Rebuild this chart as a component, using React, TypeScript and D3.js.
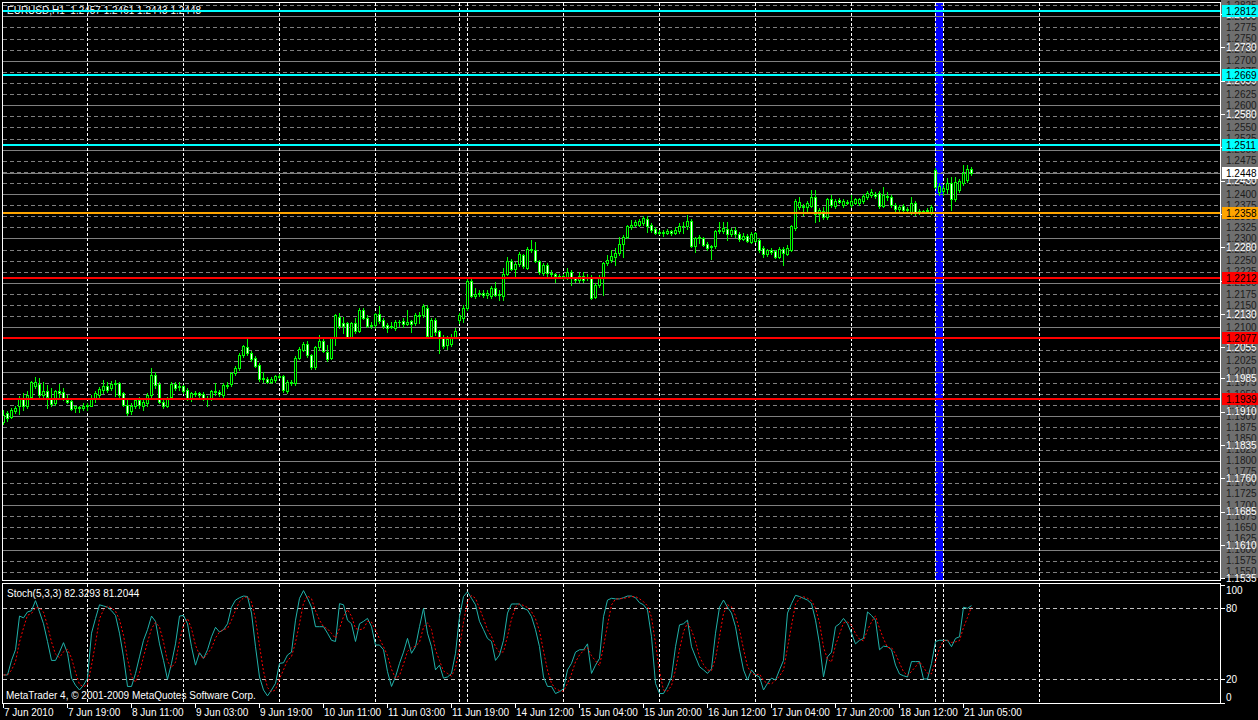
import { useEffect } from 'react';
import * as d3 from 'd3';

// EURUSD H1, 7 Jun 2010 03:00 .. 21 Jun 2010 07:00 (243 bars)
const opens = [
  1.1886, 1.1907, 1.1899, 1.1912, 1.1922, 1.1942, 1.1922, 1.1944, 1.1969, 1.1972,
  1.1947, 1.1957, 1.1939, 1.1929, 1.1957, 1.1954, 1.1937, 1.1934, 1.1918, 1.1921,
  1.1918, 1.1922, 1.1924, 1.1941, 1.1948, 1.1959, 1.1968, 1.1963, 1.1972, 1.1974,
  1.1952, 1.1926, 1.1911, 1.1922, 1.1937, 1.1924, 1.1929, 1.1948, 1.1993, 1.1972,
  1.1933, 1.1924, 1.1944, 1.1972, 1.1965, 1.1967, 1.1959, 1.1942, 1.1950, 1.1952,
  1.1950, 1.1942, 1.1942, 1.1955, 1.1954, 1.1947, 1.1970, 1.1972, 1.1997, 1.2008,
  1.2038, 1.2055, 1.2042, 1.2032, 1.2016, 1.1984, 1.1984, 1.1978, 1.1982, 1.1989,
  1.1990, 1.1957, 1.1977, 1.1974, 1.2032, 1.2050, 1.2062, 1.2037, 1.2010, 1.2055,
  1.2070, 1.2044, 1.2032, 1.2075, 1.2124, 1.2109, 1.2109, 1.2079, 1.2109, 1.2092,
  1.2139, 1.2122, 1.2105, 1.2105, 1.2129, 1.2117, 1.2105, 1.2100, 1.2099, 1.2113,
  1.2115, 1.2107, 1.2114, 1.2109, 1.2128, 1.2128, 1.2143, 1.2081, 1.2117, 1.2092,
  1.2075, 1.2060, 1.2062, 1.2079, 1.2117, 1.2120, 1.2143, 1.2204, 1.2171, 1.2175,
  1.2177, 1.2172, 1.2170, 1.2188, 1.2173, 1.2171, 1.2221, 1.2249, 1.2231, 1.2242,
  1.2263, 1.2234, 1.2276, 1.2274, 1.2249, 1.2222, 1.2240, 1.2222, 1.2220, 1.2216,
  1.2215, 1.2212, 1.2224, 1.2210, 1.2207, 1.2216, 1.2213, 1.2212, 1.2169, 1.2195,
  1.2210, 1.2244, 1.2252, 1.2259, 1.2267, 1.2287, 1.2304, 1.2325, 1.2330, 1.2331,
  1.2334, 1.2343, 1.2330, 1.2321, 1.2313, 1.2315, 1.2313, 1.2316, 1.2313, 1.2316,
  1.2328, 1.2327, 1.2340, 1.2283, 1.2301, 1.2300, 1.2287, 1.2280, 1.2282, 1.2316,
  1.2316, 1.2321, 1.2311, 1.2320, 1.2311, 1.2299, 1.2306, 1.2293, 1.2295, 1.2297,
  1.2278, 1.2265, 1.2273, 1.2271, 1.2259, 1.2276, 1.2266, 1.2274, 1.2323, 1.2371,
  1.2373, 1.2372, 1.2374, 1.2393, 1.2355, 1.2363, 1.2348, 1.2388, 1.2373, 1.2386,
  1.2375, 1.2380, 1.2375, 1.2381, 1.2379, 1.2385, 1.2393, 1.2399, 1.2401, 1.2402,
  1.2373, 1.2396, 1.2393, 1.2376, 1.2367, 1.2373, 1.2364, 1.2360, 1.2381, 1.2358,
  1.2362, 1.2361, 1.2358, 1.2454, 1.2405, 1.2406, 1.2411, 1.2424, 1.2388, 1.2410,
  1.2426, 1.2431, 1.2457,
];
const highs = [
  1.1914, 1.1912, 1.1918, 1.1922, 1.1946, 1.1952, 1.1957, 1.1979, 1.1989, 1.1986,
  1.1978, 1.1971, 1.1963, 1.1960, 1.1972, 1.1963, 1.1948, 1.1940, 1.1924, 1.1924,
  1.1929, 1.1929, 1.1948, 1.1956, 1.1966, 1.1982, 1.1978, 1.1980, 1.1982, 1.1978,
  1.1955, 1.1942, 1.1930, 1.1942, 1.1944, 1.1937, 1.1952, 1.2008, 1.2000, 1.1978,
  1.1941, 1.1944, 1.1976, 1.1978, 1.1978, 1.1971, 1.1963, 1.1955, 1.1957, 1.1955,
  1.1955, 1.1946, 1.1960, 1.1974, 1.1959, 1.1974, 1.1978, 1.2000, 1.2012, 1.2042,
  1.2060, 1.2074, 1.2046, 1.2035, 1.2020, 1.1999, 1.1988, 1.1988, 1.1993, 1.1995,
  1.1993, 1.1982, 1.1982, 1.2036, 1.2056, 1.2068, 1.2070, 1.2040, 1.2059, 1.2082,
  1.2074, 1.2060, 1.2078, 1.2130, 1.2133, 1.2124, 1.2113, 1.2113, 1.2120, 1.2143,
  1.2143, 1.2128, 1.2113, 1.2133, 1.2147, 1.2120, 1.2109, 1.2113, 1.2117, 1.2117,
  1.2120, 1.2139, 1.2117, 1.2132, 1.2135, 1.2152, 1.2150, 1.2120, 1.2120, 1.2094,
  1.2083, 1.2081, 1.2085, 1.2098, 1.2132, 1.2150, 1.2208, 1.2208, 1.2188, 1.2184,
  1.2184, 1.2184, 1.2192, 1.2203, 1.2184, 1.2233, 1.2258, 1.2254, 1.2246, 1.2270,
  1.2266, 1.2280, 1.2296, 1.2291, 1.2252, 1.2244, 1.2244, 1.2229, 1.2223, 1.2219,
  1.2219, 1.2233, 1.2229, 1.2214, 1.2225, 1.2225, 1.2220, 1.2218, 1.2199, 1.2218,
  1.2248, 1.2263, 1.2275, 1.2278, 1.2303, 1.2308, 1.2331, 1.2341, 1.2342, 1.2344,
  1.2350, 1.2350, 1.2334, 1.2325, 1.2319, 1.2319, 1.2321, 1.2320, 1.2325, 1.2334,
  1.2336, 1.2353, 1.2343, 1.2304, 1.2308, 1.2304, 1.2293, 1.2286, 1.2320, 1.2338,
  1.2336, 1.2338, 1.2323, 1.2325, 1.2315, 1.2312, 1.2310, 1.2314, 1.2315, 1.2300,
  1.2282, 1.2277, 1.2278, 1.2275, 1.2280, 1.2280, 1.2285, 1.2331, 1.2389, 1.2394,
  1.2377, 1.2385, 1.2409, 1.2409, 1.2368, 1.2370, 1.2392, 1.2399, 1.2389, 1.2391,
  1.2389, 1.2386, 1.2397, 1.2392, 1.2392, 1.2400, 1.2407, 1.2411, 1.2405, 1.2406,
  1.2416, 1.2404, 1.2397, 1.2380, 1.2375, 1.2377, 1.2371, 1.2394, 1.2385, 1.2366,
  1.2365, 1.2368, 1.2376, 1.2458, 1.2424, 1.2420, 1.2437, 1.2439, 1.2439, 1.2434,
  1.2465, 1.2466, 1.2461,
];
const lows = [
  1.1882, 1.1890, 1.1895, 1.1908, 1.1904, 1.1914, 1.1918, 1.1940, 1.1963, 1.1944,
  1.1940, 1.1918, 1.1922, 1.1925, 1.1944, 1.1937, 1.1929, 1.1914, 1.1910, 1.1910,
  1.1914, 1.1914, 1.1922, 1.1933, 1.1944, 1.1952, 1.1955, 1.1959, 1.1946, 1.1944,
  1.1922, 1.1902, 1.1905, 1.1918, 1.1918, 1.1915, 1.1922, 1.1944, 1.1963, 1.1929,
  1.1918, 1.1920, 1.1940, 1.1959, 1.1959, 1.1952, 1.1937, 1.1935, 1.1946, 1.1942,
  1.1937, 1.1924, 1.1937, 1.1948, 1.1946, 1.1944, 1.1963, 1.1968, 1.1993, 1.2004,
  1.2034, 1.2038, 1.2025, 1.2010, 1.1980, 1.1978, 1.1974, 1.1975, 1.1978, 1.1985,
  1.1955, 1.1952, 1.1970, 1.1970, 1.2028, 1.2046, 1.2033, 1.2006, 1.2006, 1.2050,
  1.2044, 1.2025, 1.2028, 1.2060, 1.2098, 1.2087, 1.2075, 1.2075, 1.2087, 1.2090,
  1.2118, 1.2100, 1.2098, 1.2098, 1.2109, 1.2098, 1.2090, 1.2098, 1.2095, 1.2102,
  1.2100, 1.2105, 1.2090, 1.2105, 1.2109, 1.2124, 1.2079, 1.2075, 1.2083, 1.2043,
  1.2054, 1.2052, 1.2057, 1.2075, 1.2109, 1.2113, 1.2139, 1.2168, 1.2167, 1.2170,
  1.2168, 1.2167, 1.2167, 1.2170, 1.2162, 1.2162, 1.2218, 1.2228, 1.2214, 1.2238,
  1.2233, 1.2231, 1.2270, 1.2246, 1.2221, 1.2218, 1.2215, 1.2216, 1.2203, 1.2212,
  1.2209, 1.2209, 1.2195, 1.2203, 1.2203, 1.2203, 1.2206, 1.2164, 1.2165, 1.2191,
  1.2173, 1.2240, 1.2248, 1.2240, 1.2263, 1.2259, 1.2300, 1.2321, 1.2327, 1.2327,
  1.2330, 1.2315, 1.2315, 1.2311, 1.2311, 1.2306, 1.2310, 1.2308, 1.2310, 1.2313,
  1.2313, 1.2322, 1.2280, 1.2270, 1.2290, 1.2282, 1.2274, 1.2253, 1.2279, 1.2313,
  1.2313, 1.2296, 1.2306, 1.2304, 1.2295, 1.2296, 1.2291, 1.2289, 1.2291, 1.2270,
  1.2259, 1.2261, 1.2265, 1.2255, 1.2255, 1.2240, 1.2262, 1.2271, 1.2320, 1.2366,
  1.2353, 1.2359, 1.2371, 1.2338, 1.2340, 1.2344, 1.2344, 1.2370, 1.2369, 1.2379,
  1.2370, 1.2377, 1.2371, 1.2377, 1.2375, 1.2381, 1.2389, 1.2394, 1.2392, 1.2369,
  1.2370, 1.2386, 1.2372, 1.2362, 1.2363, 1.2360, 1.2359, 1.2356, 1.2352, 1.2355,
  1.2358, 1.2357, 1.2355, 1.2414, 1.2398, 1.2398, 1.2402, 1.2365, 1.2384, 1.2405,
  1.2420, 1.2427, 1.2443,
];
const closes = [
  1.1903, 1.1896, 1.1914, 1.1919, 1.1941, 1.1922, 1.1948, 1.1976, 1.1976, 1.1947,
  1.1957, 1.1944, 1.1927, 1.1957, 1.1952, 1.1942, 1.1933, 1.1916, 1.1922, 1.1918,
  1.1922, 1.1926, 1.1941, 1.1952, 1.1962, 1.1968, 1.1959, 1.1972, 1.1974, 1.1948,
  1.1926, 1.1907, 1.1924, 1.1937, 1.1926, 1.1932, 1.1948, 1.1992, 1.1971, 1.1933,
  1.1922, 1.1939, 1.1972, 1.1963, 1.1969, 1.1956, 1.1942, 1.1952, 1.1953, 1.1947,
  1.1942, 1.1939, 1.1956, 1.1957, 1.1950, 1.1971, 1.1967, 1.1997, 1.2008, 1.2038,
  1.2057, 1.2042, 1.2029, 1.2014, 1.1984, 1.1987, 1.1977, 1.1984, 1.1990, 1.1991,
  1.1959, 1.1978, 1.1975, 1.2032, 1.2052, 1.2062, 1.2037, 1.2010, 1.2055, 1.2070,
  1.2047, 1.2029, 1.2075, 1.2128, 1.2102, 1.2104, 1.2079, 1.2109, 1.2092, 1.2139,
  1.2122, 1.2104, 1.2102, 1.2129, 1.2114, 1.2102, 1.2099, 1.2102, 1.2112, 1.2111,
  1.2107, 1.2113, 1.2107, 1.2128, 1.2126, 1.2147, 1.2081, 1.2117, 1.2090, 1.2079,
  1.2057, 1.2073, 1.2079, 1.2092, 1.2128, 1.2143, 1.2204, 1.2171, 1.2176, 1.2177,
  1.2172, 1.2178, 1.2188, 1.2173, 1.2176, 1.2221, 1.2249, 1.2231, 1.2242, 1.2264,
  1.2237, 1.2276, 1.2274, 1.2249, 1.2225, 1.2240, 1.2222, 1.2219, 1.2216, 1.2215,
  1.2214, 1.2224, 1.2210, 1.2207, 1.2216, 1.2206, 1.2211, 1.2167, 1.2195, 1.2214,
  1.2244, 1.2251, 1.2261, 1.2267, 1.2287, 1.2304, 1.2327, 1.2330, 1.2336, 1.2340,
  1.2346, 1.2327, 1.2318, 1.2313, 1.2315, 1.2313, 1.2316, 1.2313, 1.2319, 1.2328,
  1.2327, 1.2340, 1.2283, 1.2301, 1.2303, 1.2286, 1.2278, 1.2282, 1.2316, 1.2318,
  1.2323, 1.2311, 1.2318, 1.2311, 1.2298, 1.2306, 1.2294, 1.2310, 1.2312, 1.2273,
  1.2265, 1.2273, 1.2270, 1.2259, 1.2276, 1.2268, 1.2278, 1.2328, 1.2385, 1.2383,
  1.2371, 1.2380, 1.2393, 1.2355, 1.2364, 1.2348, 1.2388, 1.2375, 1.2385, 1.2383,
  1.2385, 1.2382, 1.2385, 1.2388, 1.2388, 1.2396, 1.2403, 1.2405, 1.2396, 1.2373,
  1.2398, 1.2393, 1.2376, 1.2366, 1.2371, 1.2364, 1.2367, 1.2381, 1.2358, 1.2362,
  1.2360, 1.2364, 1.2372, 1.2416, 1.2418, 1.2413, 1.2424, 1.2388, 1.2428, 1.2430,
  1.2447, 1.2457, 1.2448,
];

// Stoch(5,3,3) main line
const stochK = [
  23.7, 23.7, 36, 45, 73.5, 72, 77, 78, 86.5, 77,
  67, 52, 36, 36, 43, 51, 42, 21, 15, 11,
  15, 21, 59, 71.5, 83, 82, 81, 78, 74, 59,
  39, 14, 14, 25, 39, 53, 62, 73.5, 69, 50,
  36, 20, 33.5, 50, 73.5, 74, 67, 47.6, 32, 42.5,
  37.7, 45, 56, 64, 60, 62, 67, 81, 87, 89,
  90.4, 90, 76, 47.6, 22, 11, 6, 11, 16.6, 33.5,
  34, 40.6, 43, 70, 88.5, 95, 88.5, 81, 64.5, 64.5,
  64.5, 59, 53, 52, 84, 83, 70, 67, 52, 67,
  69, 71.5, 64.5, 49, 49, 45, 26.5, 14, 22, 33.5,
  43, 54.6, 42, 47.6, 64.5, 80, 59, 47.6, 28, 32,
  21, 22, 25, 42, 73, 90, 94, 88.5, 83, 69,
  62, 54.6, 52, 36, 40.6, 53, 76, 83.7, 83.7, 83.7,
  80, 78.6, 73, 62, 47.6, 22, 14, 14, 8, 9.6,
  12, 28, 33.5, 43, 45, 45, 50, 25, 32, 37.7,
  73, 87, 88.5, 88, 88, 89, 90.4, 90.4, 89, 84.8,
  83, 78.6, 56, 16.6, 8, 8, 14, 22, 47.6, 66,
  67, 70, 47.6, 39, 30.7, 28, 25, 29, 59, 81,
  87, 81, 76, 64.5, 45, 28, 19.4, 28, 23.7, 22,
  11, 16.6, 21, 19.4, 28, 36, 76, 84, 91, 90,
  88.5, 87, 84, 70, 50, 22, 39, 43, 64.5, 67,
  71.5, 67, 59, 50, 53, 54.6, 77, 74, 70, 45,
  48, 47.6, 45, 32, 24.5, 23, 22, 35, 35, 35,
  20.3, 20.3, 33.5, 52, 53, 53, 53, 47.6, 54.6, 56,
  81, 80, 82.3293,
];

const symbol = 'EURUSD,H1';
const stochCaption = 'Stoch(5,3,3) 82.3293 81.2044';
const copyright = 'MetaTrader 4, \u00a9 2001-2009 MetaQuotes Software Corp.';

// one label every 16 bars, starting at bar 0
const timeLabels = [
  '7 Jun 2010', '7 Jun 19:00', '8 Jun 11:00', '9 Jun 03:00', '9 Jun 19:00',
  '10 Jun 11:00', '11 Jun 03:00', '11 Jun 19:00', '14 Jun 12:00', '15 Jun 04:00',
  '15 Jun 20:00', '16 Jun 12:00', '17 Jun 04:00', '17 Jun 20:00', '18 Jun 12:00',
  '21 Jun 05:00',
];
// bar index where a new day starts
const daySeparators = [21, 45, 69, 93, 114, 116, 140, 164, 188, 212, 233, 235, 259];
// weekend rectangle (Sunday bars of 20 Jun)
const weekendBars = [233, 235];

const priceTicks = [
  1.2805, 1.2730, 1.2655, 1.2580, 1.2505, 1.2430, 1.2355, 1.2280, 1.2205,
  1.2130, 1.2055, 1.1985, 1.1910, 1.1835, 1.1760, 1.1685, 1.1610, 1.1535,
];
const cyanLevels = [1.2812, 1.2669, 1.2511];
const orangeLevels = [1.2358];
const redLevels = [1.2212, 1.2077, 1.1939];
const bidPrice = 1.2448;
const stochLevels = [80, 20];
const stochTicks = [100, 80, 20, 0];

const W = 1258;
const H = 720;
const GREEN = '#00ff00';
const FONT = '"Liberation Sans", Arial, sans-serif';
const FS = 10;

const xBar = d3.scaleLinear().domain([0, 300]).range([3, 1203]);
const yMain = d3.scaleLinear().domain([1.1535, 1.2812]).range([578.4, 11]);
const yStoch = d3.scaleLinear().domain([0, 100]).range([703, 584.7]);

const stochD = stochK.map((_, i) => d3.mean(stochK.slice(Math.max(0, i - 2), i + 1)) as number);

const quarterLevels = d3.range(0, 52).map(k => +(1.1550 + k * 0.0025).toFixed(4));

const px = (i: number) => Math.round(xBar(i));
const py = (p: number) => Math.round(yMain(p));

export default function App() {
    useEffect(() => {
        document.body.style.margin = '0';
        document.body.style.background = '#000';
    }, []);

    const last = closes.length - 1;
    const header = `${symbol}  ${opens[last].toFixed(4)} ${highs[last].toFixed(4)} ${lows[last].toFixed(4)} ${closes[last].toFixed(4)}`;

    const kLine = d3.line<number>().x((_, i) => px(i) + 0.5).y(v => yStoch(v));

    const levelGroups = [
        { levels: cyanLevels, color: '#00ffff' },
        { levels: orangeLevels, color: '#ffa500' },
        { levels: redLevels, color: '#ff0000' },
    ];

    return (
        <svg width={W} height={H} style={{ position: 'absolute', left: 0, top: 0, display: 'block' }}
            fontFamily={FONT} fontSize={FS}>
            <defs>
                <clipPath id="mainClip"><rect x={3} y={3} width={1217} height={577} /></clipPath>
                <clipPath id="stochClip"><rect x={3} y={584} width={1217} height={119} /></clipPath>
                <clipPath id="axisClip"><rect x={1221} y={0} width={37} height={578} /></clipPath>
            </defs>
            <rect width={W} height={H} fill="#000" />

            {/* main window */}
            <g clipPath="url(#mainClip)">
                <rect x={px(weekendBars[0])} y={3} width={px(weekendBars[1]) - px(weekendBars[0])} height={577} fill="#0000ff" />
                {quarterLevels.map(p => {
                    const solid = Math.round(p * 10000) % 100 === 0;
                    return (
                        <line key={p} x1={3} x2={1220} y1={py(p) + 0.5} y2={py(p) + 0.5}
                            stroke="#808080" strokeDasharray={solid ? undefined : '4,3'} />
                    );
                })}
                {daySeparators.map(i => (
                    <line key={i} x1={px(i) + 0.5} x2={px(i) + 0.5} y1={3} y2={580}
                        stroke="#ffffff" strokeDasharray="3,2" />
                ))}
                <line x1={3} x2={1220} y1={py(bidPrice) + 0.5} y2={py(bidPrice) + 0.5} stroke="#808080" />
                <text x={7} y={14} fill="#ffffff" style={{ whiteSpace: 'pre' }}>{header}</text>
                {closes.map((c, i) => {
                    const o = opens[i];
                    const x0 = px(i);
                    const yT = py(Math.max(o, c));
                    const yB = py(Math.min(o, c));
                    return (
                        <g key={i}>
                            <line x1={x0 + 0.5} x2={x0 + 0.5} y1={py(highs[i])} y2={py(lows[i]) + 1} stroke={GREEN} />
                            {yB > yT
                                ? <rect x={x0 - 0.5} y={yT + 0.5} width={2} height={yB - yT}
                                    fill={c > o ? '#000000' : '#ffffff'} stroke={GREEN} />
                                : <line x1={x0 - 1} x2={x0 + 2} y1={yT + 0.5} y2={yT + 0.5} stroke={GREEN} />}
                        </g>
                    );
                })}
                {levelGroups.map(g => g.levels.map(p => (
                    <line key={p} x1={3} x2={1220} y1={py(p)} y2={py(p)} stroke={g.color} strokeWidth={2} />
                )))}
            </g>
            <rect x={2.5} y={2.5} width={1218} height={578} fill="none" stroke="#ffffff" />

            {/* price scale */}
            <g clipPath="url(#axisClip)">
                <rect x={1221} y={0} width={37} height={578} fill="#6f6f6f" />
                {quarterLevels.map(p => (
                    <text key={p} x={1226} y={yMain(p) + 3.5} fill="#1c1c1c">{p.toFixed(4)}</text>
                ))}
            </g>
            {priceTicks.map(p => (
                <g key={p}>
                    <line x1={1221} x2={1225} y1={py(p) + 0.5} y2={py(p) + 0.5} stroke="#ffffff" />
                    <text x={1226} y={yMain(p) + 3.5} fill="#ffffff">{p.toFixed(4)}</text>
                </g>
            ))}
            {levelGroups.map(g => g.levels.map(p => (
                <g key={p}>
                    <rect x={1222} y={py(p) - 6} width={36} height={12} fill={g.color} />
                    <text x={1226} y={py(p) + 3.5} fill="#000000">{p.toFixed(4)}</text>
                </g>
            )))}
            <rect x={1222} y={py(bidPrice) - 6} width={36} height={12} fill="#ffffff" />
            <text x={1226} y={py(bidPrice) + 3.5} fill="#000000">{bidPrice.toFixed(4)}</text>

            {/* stochastic window */}
            <g clipPath="url(#stochClip)">
                {stochLevels.map(v => (
                    <line key={v} x1={3} x2={1220} y1={Math.round(yStoch(v)) + 0.5} y2={Math.round(yStoch(v)) + 0.5}
                        stroke="#c0c0c0" strokeDasharray="4,3" />
                ))}
                {daySeparators.map(i => (
                    <line key={i} x1={px(i) + 0.5} x2={px(i) + 0.5} y1={584} y2={703}
                        stroke="#ffffff" strokeDasharray="3,2" />
                ))}
                <path d={kLine(stochK) ?? ''} fill="none" stroke="#20b2aa" strokeWidth={1} />
                <path d={kLine(stochD) ?? ''} fill="none" stroke="#ff0000" strokeWidth={1} strokeDasharray="2,2" />
                <text x={7} y={597} fill="#ffffff">{stochCaption}</text>
                <text x={6} y={699} fill="#ffffff">{copyright}</text>
            </g>
            <rect x={2.5} y={583.5} width={1218} height={120} fill="none" stroke="#ffffff" />
            {stochTicks.map(v => {
                const yy = Math.min(Math.max(yStoch(v), 590), 697);
                return (
                    <g key={v}>
                        <line x1={1221} x2={1225} y1={Math.round(yStoch(v)) + 0.5} y2={Math.round(yStoch(v)) + 0.5} stroke="#ffffff" />
                        <text x={1226} y={yy + 3.5} fill="#ffffff">{v}</text>
                    </g>
                );
            })}

            {/* time scale */}
            {timeLabels.map((t, k) => {
                const x0 = px(k * 16);
                return (
                    <g key={t}>
                        <line x1={x0 + 0.5} x2={x0 + 0.5} y1={704} y2={708} stroke="#ffffff" />
                        <text x={x0 + 1} y={716} fill="#ffffff">{t}</text>
                    </g>
                );
            })}
        </svg>
    );
}
